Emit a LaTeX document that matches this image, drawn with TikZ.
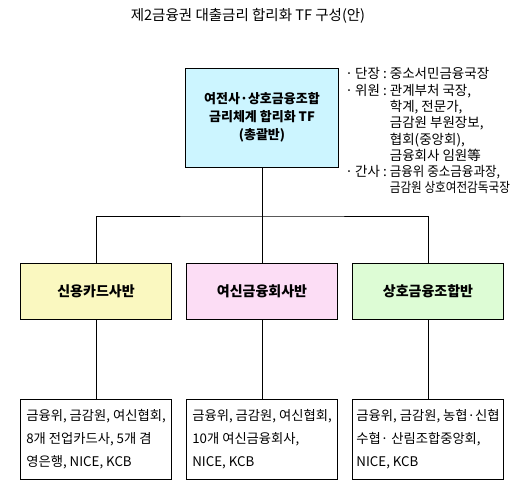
\documentclass[tikz,border=0pt]{standalone}
\usepackage{fontspec}
\setmainfont{Noto Sans CJK KR}
\usetikzlibrary{positioning}

\definecolor{chongfill}{HTML}{CCF5FF}
\definecolor{cardfill}{HTML}{FAF8C0}
\definecolor{yeosinfill}{HTML}{FCDDF5}
\definecolor{sanghofill}{HTML}{DDFCD5}

\tikzset{
  chongbox/.style={draw, fill=chongfill, minimum width=153pt, minimum height=99pt,
                   align=center, font=\fontsize{13}{18}\selectfont\bfseries},
  banbox/.style={draw, minimum width=151pt, minimum height=56pt,
                 font=\fontsize{14}{16}\selectfont\bfseries},
  membox/.style={draw, minimum width=151pt, minimum height=80pt,
                 align=left, font=\fontsize{13.3}{23}\selectfont},
}

\begin{document}
\begin{tikzpicture}[x=1pt, y=-1pt, line width=0.8pt]
\useasboundingbox (0,0) rectangle (532,488);

% title
\node[font=\fontsize{14.5}{16}\selectfont] (title) at (248,16)
  {제2금융권 대출금리 합리화 TF 구성(안)};

% top box and its members
\node[chongbox] (chong) at (262,117.5) {여전사·상호금융조합\\금리체계 합리화 TF\\(총괄반)};
\node[anchor=north west, inner sep=0pt, font=\fontsize{13.5}{16.3}\selectfont] (chongnote) at (345,67)
  {\begin{tabular}{@{}l@{\,}l@{\ }l@{}}
   · & 단장 : & 중소서민금융국장\\
   · & 위원 : & 관계부처 국장,\\
     &        & 학계, 전문가,\\
     &        & 금감원 부원장보,\\
     &        & 협회(중앙회),\\
     &        & 금융회사 임원等\\
   · & 간사 : & \scalebox{0.93}[1]{금융위 중소금융과장,}\\
     &        & \scalebox{0.86}[1]{금감원 상호여전감독국장}
   \end{tabular}};

\coordinate (bar) at (262,216);

\foreach \i/\name/\col/\txt in {
  0/신용카드사반/cardfill/{금융위, 금감원, 여신협회,\\8개 전업카드사, 5개 겸\\영은행, NICE, KCB},
  1/여신금융회사반/yeosinfill/{금융위, 금감원, 여신협회,\\10개 여신금융회사,\\NICE, KCB},
  2/상호금융조합반/sanghofill/{금융위, 금감원, 농협·신협\\수협· 산림조합중앙회,\\NICE, KCB}%
}{
  \pgfmathsetmacro{\x}{96+\i*166}
  \node[banbox, fill=\col] (ban\i) at (\x,291) {\name};
  \node[membox] (mem\i) at (\x,439) {\txt};
  \draw (ban\i.south) -- (mem\i.north);
}

\draw (chong.south) -- (ban1.north);
\draw (ban0.north) |- (bar) -| (ban2.north);
\end{tikzpicture}
\end{document}
